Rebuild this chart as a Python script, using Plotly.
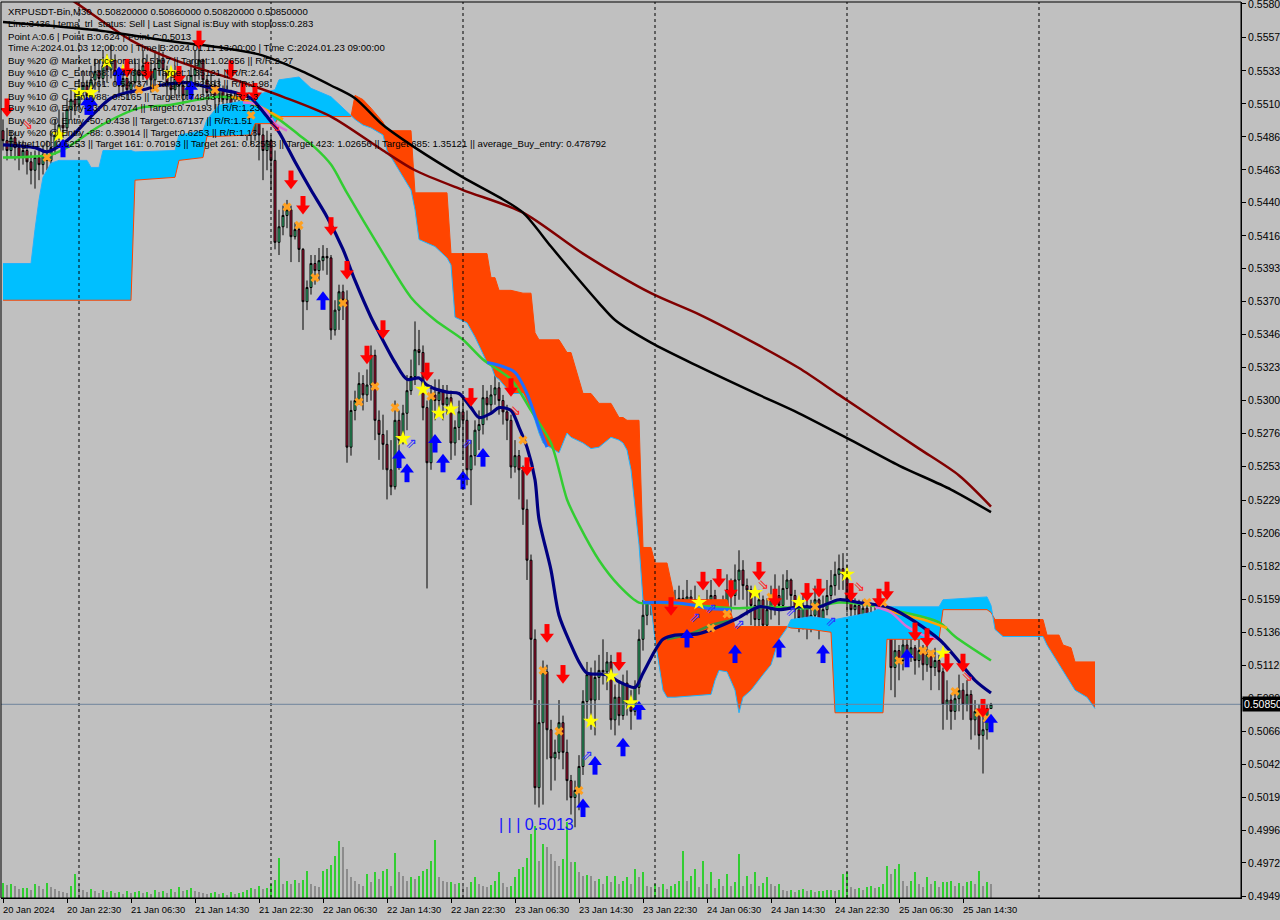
import plotly.graph_objects as go

# ---------------- data ----------------
date_tick_idx = [0, 16, 32, 48, 64, 80, 96, 112, 128, 144, 160, 176, 192, 208, 224, 240]
date_labels = ["20 Jan 2024", "20 Jan 22:30", "21 Jan 06:30", "21 Jan 14:30", "21 Jan 22:30",
               "22 Jan 06:30", "22 Jan 14:30", "22 Jan 22:30", "23 Jan 06:30", "23 Jan 14:30",
               "23 Jan 22:30", "24 Jan 06:30", "24 Jan 14:30", "24 Jan 22:30", "25 Jan 06:30",
               "25 Jan 14:30"]
day_sep_idx = [19, 67, 115, 163, 211, 259]
price_ticks = [0.55807, 0.55573, 0.55333, 0.55100, 0.54866, 0.54633, 0.54400, 0.54166, 0.53933,
               0.53700, 0.53467, 0.53233, 0.53000, 0.52767, 0.52533, 0.52293, 0.52060, 0.51826,
               0.51593, 0.51360, 0.51126, 0.50893, 0.50660, 0.50426, 0.50193, 0.49960, 0.49727,
               0.49493]
price_tick_text = ["0.55807", "0.55573", "0.55333", "0.55100", "0.54866", "0.54633", "0.54400",
                   "0.54166", "0.53933", "0.53700", "0.53467", "0.53233", "0.53000", "0.52767",
                   "0.52533", "0.52293", "0.52060", "0.51826", "0.51593", "0.51360", "0.51126",
                   "0.50893", "0.50660", "0.50426", "0.50193", "0.49960", "0.49727", "0.49493"]
last_price = 0.5085

first_open = 0.5491
close = [0.5484, 0.5477, 0.5486, 0.5479, 0.5472, 0.5477, 0.5469, 0.5463, 0.5472, 0.5467,
         0.5474, 0.5470, 0.5479, 0.5488, 0.5495, 0.5493, 0.5506, 0.5513, 0.5509, 0.5518,
         0.5523, 0.5516, 0.5527, 0.5533, 0.5528, 0.5537, 0.5534, 0.5541, 0.5530, 0.5523,
         0.5528, 0.5520, 0.5525, 0.5534, 0.5530, 0.5537, 0.5533, 0.5527, 0.5535, 0.5541,
         0.5534, 0.5525, 0.5520, 0.5528, 0.5523, 0.5516, 0.5521, 0.5530, 0.5535, 0.5541,
         0.5527, 0.5518, 0.5523, 0.5514, 0.5520, 0.5513, 0.5516, 0.5506, 0.5509, 0.5500,
         0.5506, 0.5495, 0.5491, 0.5497, 0.5488, 0.5477, 0.5484, 0.5470, 0.5412, 0.5423,
         0.5431, 0.5435, 0.5416, 0.5421, 0.5407, 0.5370, 0.5380, 0.5397, 0.5392, 0.5399,
         0.5402, 0.5401, 0.5350, 0.5364, 0.5377, 0.5371, 0.5267, 0.5293, 0.5300, 0.5312,
         0.5304, 0.5311, 0.5332, 0.5286, 0.5276, 0.5269, 0.5251, 0.5239, 0.5286, 0.5272,
         0.5291, 0.5307, 0.5317, 0.5336, 0.5334, 0.5295, 0.5256, 0.5304, 0.5300, 0.5306,
         0.5297, 0.5302, 0.5270, 0.5281, 0.5292, 0.5286, 0.5251, 0.5261, 0.5279, 0.5283,
         0.5302, 0.5297, 0.5304, 0.5309, 0.5300, 0.5292, 0.5286, 0.5253, 0.5261, 0.5251,
         0.5223, 0.5187, 0.5131, 0.5026, 0.5072, 0.5108, 0.5067, 0.5047, 0.5051, 0.5072,
         0.5051, 0.5031, 0.5019, 0.5024, 0.5041, 0.5087, 0.5106, 0.5088, 0.5104, 0.5109,
         0.5108, 0.5115, 0.5074, 0.5090, 0.5077, 0.5100, 0.5085, 0.5080, 0.5097, 0.5131,
         0.5148, 0.5159, 0.5169, 0.5159, 0.5166, 0.5155, 0.5148, 0.5159, 0.5152, 0.5160,
         0.5155, 0.5161, 0.5155, 0.5159, 0.5138, 0.5146, 0.5159, 0.5162, 0.5152, 0.5145,
         0.5155, 0.5166, 0.5162, 0.5173, 0.5180, 0.5169, 0.5166, 0.5155, 0.5145, 0.5159,
         0.5141, 0.5152, 0.5159, 0.5162, 0.5155, 0.5167, 0.5173, 0.5162, 0.5152, 0.5146,
         0.5155, 0.5141, 0.5148, 0.5159, 0.5143, 0.5152, 0.5162, 0.5169, 0.5177, 0.5181,
         0.5177, 0.5159, 0.5152, 0.5155, 0.5148, 0.5153, 0.5146, 0.5150, 0.5143, 0.5148,
         0.5141, 0.5145, 0.5111, 0.5123, 0.5116, 0.5127, 0.5120, 0.5125, 0.5116, 0.5123,
         0.5113, 0.5120, 0.5111, 0.5116, 0.5108, 0.5085, 0.5088, 0.5080, 0.5089, 0.5095,
         0.5085, 0.5092, 0.5074, 0.5080, 0.5063, 0.5067, 0.5082, 0.5085]
high = [0.5499, 0.5493, 0.5491, 0.5490, 0.5484, 0.5484, 0.5481, 0.5476, 0.5477, 0.5477,
        0.5481, 0.5484, 0.5491, 0.5499, 0.5506, 0.5504, 0.5513, 0.5520, 0.5521, 0.5527,
        0.5534, 0.5527, 0.5537, 0.5542, 0.5541, 0.5548, 0.5545, 0.5552, 0.5545, 0.5535,
        0.5537, 0.5533, 0.5534, 0.5541, 0.5542, 0.5548, 0.5545, 0.5540, 0.5547, 0.5552,
        0.5547, 0.5537, 0.5530, 0.5537, 0.5534, 0.5527, 0.5530, 0.5541, 0.5548, 0.5552,
        0.5542, 0.5530, 0.5533, 0.5527, 0.5528, 0.5523, 0.5523, 0.5520, 0.5518, 0.5513,
        0.5514, 0.5509, 0.5502, 0.5504, 0.5500, 0.5493, 0.5491, 0.5488, 0.5477, 0.5435,
        0.5438, 0.5442, 0.5438, 0.5426, 0.5424, 0.5408, 0.5385, 0.5403, 0.5403, 0.5408,
        0.5410, 0.5408, 0.5403, 0.5371, 0.5382, 0.5382, 0.5378, 0.5300, 0.5307, 0.5320,
        0.5318, 0.5322, 0.5339, 0.5336, 0.5293, 0.5290, 0.5279, 0.5272, 0.5300, 0.5293,
        0.5297, 0.5318, 0.5329, 0.5356, 0.5350, 0.5339, 0.5300, 0.5311, 0.5315, 0.5315,
        0.5311, 0.5311, 0.5307, 0.5286, 0.5300, 0.5304, 0.5293, 0.5272, 0.5286, 0.5293,
        0.5311, 0.5307, 0.5311, 0.5318, 0.5313, 0.5304, 0.5297, 0.5290, 0.5272, 0.5265,
        0.5254, 0.5230, 0.5191, 0.5138, 0.5088, 0.5116, 0.5113, 0.5074, 0.5060, 0.5088,
        0.5077, 0.5060, 0.5035, 0.5031, 0.5049, 0.5095, 0.5115, 0.5111, 0.5116, 0.5120,
        0.5131, 0.5122, 0.5120, 0.5099, 0.5102, 0.5106, 0.5109, 0.5095, 0.5102, 0.5138,
        0.5159, 0.5166, 0.5184, 0.5177, 0.5180, 0.5169, 0.5162, 0.5167, 0.5166, 0.5169,
        0.5166, 0.5173, 0.5166, 0.5169, 0.5162, 0.5159, 0.5166, 0.5173, 0.5166, 0.5159,
        0.5162, 0.5177, 0.5174, 0.5184, 0.5194, 0.5187, 0.5174, 0.5169, 0.5162, 0.5166,
        0.5162, 0.5160, 0.5169, 0.5177, 0.5169, 0.5177, 0.5180, 0.5174, 0.5166, 0.5159,
        0.5162, 0.5159, 0.5159, 0.5169, 0.5160, 0.5162, 0.5173, 0.5180, 0.5186, 0.5191,
        0.5192, 0.5184, 0.5162, 0.5160, 0.5159, 0.5159, 0.5155, 0.5157, 0.5155, 0.5155,
        0.5152, 0.5150, 0.5148, 0.5131, 0.5127, 0.5134, 0.5131, 0.5132, 0.5127, 0.5131,
        0.5127, 0.5127, 0.5123, 0.5125, 0.5120, 0.5111, 0.5102, 0.5092, 0.5095, 0.5106,
        0.5100, 0.5102, 0.5095, 0.5088, 0.5085, 0.5080, 0.5085, 0.5086]
low = [0.5477, 0.5470, 0.5472, 0.5470, 0.5463, 0.5467, 0.5460, 0.5453, 0.5450, 0.5456,
       0.5460, 0.5463, 0.5467, 0.5474, 0.5484, 0.5486, 0.5488, 0.5499, 0.5502, 0.5506,
       0.5513, 0.5511, 0.5513, 0.5520, 0.5518, 0.5523, 0.5525, 0.5528, 0.5523, 0.5514,
       0.5518, 0.5513, 0.5516, 0.5521, 0.5523, 0.5527, 0.5523, 0.5518, 0.5523, 0.5530,
       0.5527, 0.5516, 0.5513, 0.5516, 0.5514, 0.5509, 0.5513, 0.5518, 0.5525, 0.5527,
       0.5516, 0.5509, 0.5513, 0.5506, 0.5509, 0.5502, 0.5506, 0.5495, 0.5500, 0.5488,
       0.5491, 0.5484, 0.5481, 0.5484, 0.5470, 0.5456, 0.5463, 0.5449, 0.5407, 0.5403,
       0.5417, 0.5422, 0.5398, 0.5414, 0.5398, 0.5350, 0.5364, 0.5375, 0.5382, 0.5385,
       0.5392, 0.5389, 0.5343, 0.5346, 0.5350, 0.5357, 0.5256, 0.5261, 0.5286, 0.5297,
       0.5293, 0.5299, 0.5300, 0.5272, 0.5258, 0.5251, 0.5230, 0.5233, 0.5237, 0.5251,
       0.5269, 0.5279, 0.5304, 0.5311, 0.5325, 0.5286, 0.5167, 0.5251, 0.5286, 0.5293,
       0.5286, 0.5290, 0.5258, 0.5261, 0.5272, 0.5258, 0.5240, 0.5226, 0.5254, 0.5265,
       0.5276, 0.5286, 0.5292, 0.5297, 0.5290, 0.5283, 0.5272, 0.5245, 0.5249, 0.5230,
       0.5212, 0.5173, 0.5088, 0.5014, 0.5012, 0.5014, 0.5046, 0.5024, 0.5031, 0.5046,
       0.5039, 0.5017, 0.5007, 0.4998, 0.5010, 0.5035, 0.5074, 0.5067, 0.5063, 0.5088,
       0.5099, 0.5095, 0.5067, 0.5063, 0.5070, 0.5074, 0.5077, 0.5067, 0.5077, 0.5092,
       0.5123, 0.5141, 0.5148, 0.5145, 0.5152, 0.5131, 0.5123, 0.5138, 0.5131, 0.5141,
       0.5123, 0.5131, 0.5120, 0.5131, 0.5120, 0.5123, 0.5141, 0.5145, 0.5131, 0.5116,
       0.5138, 0.5148, 0.5150, 0.5155, 0.5159, 0.5159, 0.5148, 0.5141, 0.5134, 0.5138,
       0.5131, 0.5139, 0.5145, 0.5148, 0.5141, 0.5152, 0.5159, 0.5152, 0.5141, 0.5136,
       0.5138, 0.5131, 0.5136, 0.5145, 0.5131, 0.5139, 0.5148, 0.5159, 0.5162, 0.5166,
       0.5166, 0.5150, 0.5145, 0.5146, 0.5141, 0.5145, 0.5139, 0.5141, 0.5136, 0.5139,
       0.5131, 0.5134, 0.5095, 0.5090, 0.5102, 0.5109, 0.5113, 0.5115, 0.5106, 0.5111,
       0.5102, 0.5108, 0.5095, 0.5105, 0.5095, 0.5067, 0.5074, 0.5067, 0.5074, 0.5080,
       0.5074, 0.5080, 0.5060, 0.5063, 0.5053, 0.5036, 0.5060, 0.5082]
volume = [15, 13, 14, 12, 9, 10, 10, 8, 14, 12, 9, 15, 11, 9, 7, 6, 5, 12, 24, 14,
          8, 6, 9, 7, 5, 8, 6, 7, 5, 6, 4, 7, 5, 6, 7, 5, 6, 4, 8, 6,
          7, 5, 9, 6, 11, 7, 8, 10, 7, 6, 5, 4, 5, 6, 4, 5, 3, 6, 4, 5,
          6, 8, 10, 9, 12, 9, 10,
          14, 18, 40, 14, 17, 14, 18, 15, 18, 27, 14, 12, 11, 27, 29, 33, 42, 57, 51, 29,
          21, 17, 14, 12, 24, 16, 26, 19, 27, 29, 12, 45, 26, 22, 17, 21, 19, 22, 27, 29,
          37, 58, 21, 17, 16,
          16, 14, 15, 12, 11, 16, 21, 14, 12, 11, 13, 17, 26, 15, 11, 12,
          21, 29, 31, 40, 64, 72, 37, 54, 51, 44, 37, 32, 39, 76, 36, 36, 26, 22,
          23, 22, 17, 19, 14, 22, 16, 22, 14, 17, 21, 14, 29, 21, 26, 12, 11, 14,
          11, 14, 9, 12, 14, 17, 47, 17, 22, 29, 11, 37, 14, 26, 10, 19, 12, 24, 12, 16, 44, 12,
          22, 14, 26, 12, 15, 21, 14, 12, 14, 8, 7, 8, 6, 8, 9, 7, 8, 6, 7, 7, 8, 8, 7, 8, 24, 26,
          11, 9, 10, 8, 11, 12, 10, 11, 14, 32, 24, 29, 34, 17, 12, 17, 26, 14, 11, 21,
          14, 17, 11, 16, 16, 17, 12, 15, 12, 16, 17, 14, 27, 12, 16, 14]

# Ichimoku cloud (Senkou span A / span B), shifted 26 bars ahead
cloud_idx = [0, 7, 8, 9, 10, 12, 14, 21, 22, 24, 25, 32, 33, 43, 44, 50, 51, 54, 62, 63,
             68, 69, 74, 77, 82, 85, 87, 88, 90, 92, 95, 96, 99, 102, 103, 104, 108, 111, 112, 113,
             116, 118, 121, 122, 123, 124, 127, 130, 132, 133, 134, 135, 139, 141, 142, 145, 147, 149, 152, 154,
             155, 156, 157, 158, 159, 160, 162, 163, 165, 166, 168, 177, 178, 179, 181, 183, 184, 185, 187, 190,
             192, 194, 196, 197, 202, 207, 208, 217, 220, 221, 234, 235, 246, 247, 248, 250, 260, 261, 264, 265,
             267, 268, 271, 273]
span_a = [0.5397, 0.5397, 0.5421, 0.5442, 0.5458, 0.5468, 0.5470, 0.5470, 0.5465, 0.5465,
          0.5477, 0.5477, 0.5476, 0.5477, 0.5488, 0.5491, 0.5499, 0.5509, 0.5513, 0.5516,
          0.5520, 0.5527, 0.5529, 0.5521, 0.5515, 0.5507, 0.5502, 0.5499, 0.5495, 0.5493,
          0.5488, 0.5477, 0.5463, 0.5449, 0.5435, 0.5414, 0.5409, 0.5401, 0.5396, 0.5359,
          0.5355, 0.5345, 0.5327, 0.5325, 0.5317, 0.5315, 0.5305, 0.5305, 0.5293, 0.5286,
          0.5277, 0.5270, 0.5263, 0.5277, 0.5274, 0.5270, 0.5266, 0.5267, 0.5274, 0.5272,
          0.5270, 0.5265, 0.5251, 0.5223, 0.5198, 0.5159, 0.5155, 0.5131, 0.5095, 0.5090,
          0.5090, 0.5092, 0.5102, 0.5109, 0.5108, 0.5095, 0.5079, 0.5090, 0.5095, 0.5106,
          0.5113, 0.5131, 0.5139, 0.5145, 0.5147, 0.5145, 0.5145, 0.5150, 0.5154, 0.5154,
          0.5154, 0.5159, 0.5161, 0.5155, 0.5138, 0.5133, 0.5133, 0.5127, 0.5113, 0.5108,
          0.5099, 0.5095, 0.5090, 0.5082]
span_b = [0.5371, 0.5371, 0.5371, 0.5371, 0.5371, 0.5371, 0.5371, 0.5371, 0.5371, 0.5371,
          0.5371, 0.5371, 0.5456, 0.5458, 0.5470, 0.5472, 0.5487, 0.5487, 0.5488, 0.5496,
          0.5496, 0.5501, 0.5501, 0.5501, 0.5501, 0.5501, 0.5501, 0.5516, 0.5513, 0.5507,
          0.5497, 0.5491, 0.5491, 0.5491, 0.5447, 0.5447, 0.5447, 0.5447, 0.5404, 0.5404,
          0.5404, 0.5404, 0.5404, 0.5387, 0.5387, 0.5378, 0.5378, 0.5376, 0.5376, 0.5348,
          0.5343, 0.5343, 0.5343, 0.5334, 0.5334, 0.5305, 0.5305, 0.5298, 0.5298, 0.5288,
          0.5288, 0.5286, 0.5286, 0.5286, 0.5286, 0.5196, 0.5196, 0.5185, 0.5185, 0.5185,
          0.5159, 0.5159, 0.5159, 0.5159, 0.5159, 0.5140, 0.5140, 0.5140, 0.5140, 0.5140,
          0.5140, 0.5140, 0.5140, 0.5139, 0.5138, 0.5136, 0.5079, 0.5079, 0.5079, 0.5131,
          0.5131, 0.5152, 0.5152, 0.5150, 0.5145, 0.5145, 0.5145, 0.5134, 0.5134, 0.5127,
          0.5125, 0.5115, 0.5115, 0.5115]

# moving averages (value at bar index)
ma_black_idx = [0, 24, 40, 54, 64, 74, 82, 88, 95, 103, 115, 124, 130, 137, 142, 149, 153, 162,
                174, 189, 199, 212, 224, 237, 247]
ma_black = [0.5568, 0.5562, 0.5555, 0.5550, 0.5545, 0.5534, 0.5523, 0.5514, 0.5495, 0.5479,
            0.5458, 0.5444, 0.5433, 0.5409, 0.5392, 0.5369, 0.5357, 0.5341, 0.5324, 0.5304,
            0.5291, 0.5272, 0.5254, 0.5237, 0.5221]
ma_maroon_idx = [9, 18, 32, 43, 58, 70, 82, 95, 103, 115, 130, 145, 162, 174, 189, 199, 209,
                 219, 229, 239, 247]
ma_maroon = [0.5598, 0.5582, 0.5555, 0.5541, 0.5527, 0.5515, 0.5501, 0.5477, 0.5463, 0.5449,
             0.5433, 0.5404, 0.5376, 0.5361, 0.5339, 0.5323, 0.5304, 0.5285, 0.5266, 0.5247,
             0.5225]
ma_green_idx = [0, 12, 16, 24, 34, 41, 49, 54, 60, 68, 74, 78, 82, 86, 94, 102, 108, 115, 120,
                127, 132, 137, 141, 144, 149, 154, 159, 163, 174, 183, 192, 201, 209, 217, 222,
                234, 238, 247]
ma_green = [0.5472, 0.5474, 0.5479, 0.5494, 0.5507, 0.5509, 0.5513, 0.5515, 0.5513, 0.5501,
            0.5488, 0.5479, 0.5467, 0.5447, 0.5409, 0.5373, 0.5357, 0.5343, 0.5329, 0.5315,
            0.5293, 0.5270, 0.5230, 0.5212, 0.5187, 0.5169, 0.5157, 0.5157, 0.5155, 0.5153,
            0.5154, 0.5153, 0.5157, 0.5155, 0.5152, 0.5143, 0.5133, 0.5116]
tema_idx = [0, 8, 11, 16, 23, 27, 31, 35, 39, 46, 51, 58, 62, 66, 69, 73, 77, 81, 85, 88,
            92, 94, 98, 101, 104, 106, 111, 114, 117, 119, 122, 124, 127, 129, 131, 133, 134,
            137, 139, 142, 144, 146, 151, 154, 158, 160, 163, 165, 168, 174, 183, 189, 194,
            199, 204, 209, 214, 222, 234, 243, 247]
tema = [0.5481, 0.5479, 0.5476, 0.5484, 0.5504, 0.5514, 0.5518, 0.5520, 0.5523, 0.5525,
        0.5522, 0.5518, 0.5514, 0.5501, 0.5490, 0.5469, 0.5449, 0.5430, 0.5407, 0.5385,
        0.5359, 0.5348, 0.5327, 0.5315, 0.5316, 0.5311, 0.5306, 0.5305, 0.5295, 0.5288,
        0.5291, 0.5295, 0.5293, 0.5281, 0.5267, 0.5244, 0.5216, 0.5180, 0.5148, 0.5127,
        0.5115, 0.5107, 0.5106, 0.5101, 0.5097, 0.5107, 0.5123, 0.5131, 0.5134, 0.5135,
        0.5145, 0.5154, 0.5152, 0.5154, 0.5154, 0.5159, 0.5157, 0.5153, 0.5131, 0.5102,
        0.5093]
kijun_seg1_idx = [121, 124, 128, 131, 134, 136]
kijun_seg1 = [0.5327, 0.5325, 0.5320, 0.5305, 0.5281, 0.5267]
kijun_seg2_idx = [160, 167, 173, 176, 182]
kijun_seg2 = [0.5157, 0.5157, 0.5155, 0.5153, 0.5152]
dkgreen_idx = [166, 172, 177, 183]
dkgreen = [0.5131, 0.5135, 0.5141, 0.5145]
orange_seg1_idx = [57, 60, 65, 70]
orange_seg1 = [0.5515, 0.5513, 0.5507, 0.5499]
orange_seg2_idx = [218, 223, 230, 236]
orange_seg2 = [0.5155, 0.5150, 0.5145, 0.5139]
pink_seg1_idx = [60, 63, 66, 68, 71]
pink_seg1 = [0.5511, 0.5510, 0.5504, 0.5496, 0.5491]
pink_seg2_idx = [218, 222, 226, 230, 234]
pink_seg2 = [0.5154, 0.5150, 0.5140, 0.5134, 0.5131]

# signals
sell_idx = [1, 31, 36, 44, 49, 57, 60, 63, 72, 75, 82, 86, 91, 95, 106, 117, 127, 131, 136,
            140, 154, 167, 175, 179, 182, 189, 193, 201, 204, 212, 219, 221, 228, 231, 236,
            240, 245]
sell_px = [0.5507, 0.5535, 0.5533, 0.5530, 0.5555, 0.5534, 0.5518, 0.5518, 0.5456, 0.5438,
           0.5423, 0.5392, 0.5332, 0.5350, 0.5320, 0.5302, 0.5309, 0.5253, 0.5135, 0.5106,
           0.5115, 0.5154, 0.5172, 0.5174, 0.5166, 0.5179, 0.5160, 0.5164, 0.5167, 0.5164,
           0.5160, 0.5165, 0.5136, 0.5132, 0.5114, 0.5114, 0.5082]
buy_idx = [15, 21, 22, 29, 47, 80, 99, 101, 108, 110, 115, 120, 145, 148, 155, 159, 171, 183,
           194, 205, 226, 247]
buy_px = [0.5479, 0.5509, 0.5509, 0.5530, 0.5520, 0.5371, 0.5259, 0.5249, 0.5270, 0.5256,
          0.5244, 0.5260, 0.5012, 0.5042, 0.5055, 0.5081, 0.5132, 0.5121, 0.5125, 0.5121,
          0.5118, 0.5072]
star_idx = [14, 19, 22, 26, 30, 42, 100, 105, 109, 112, 147, 152, 157, 174, 188, 199, 211, 235]
star_px = [0.5488, 0.5518, 0.5518, 0.5540, 0.5533, 0.5532, 0.5273, 0.5308, 0.5291, 0.5294,
           0.5073, 0.5105, 0.5086, 0.5157, 0.5164, 0.5157, 0.5177, 0.5121]
cross_idx = [11, 34, 38, 53, 62, 71, 74, 78, 85, 89, 93, 98, 107, 130, 135, 139, 144, 177,
             181, 192, 203, 216, 220, 224, 230, 232, 238, 244, 246]
cross_px = [0.5472, 0.5520, 0.5521, 0.5520, 0.5502, 0.5437, 0.5424, 0.5387, 0.5369, 0.5299,
            0.5310, 0.5295, 0.5303, 0.5272, 0.5109, 0.5066, 0.5024, 0.5139, 0.5149, 0.5161,
            0.5154, 0.5157, 0.5157, 0.5116, 0.5123, 0.5121, 0.5094, 0.5079, 0.5075]
hollow_buy_idx = [102, 116, 146, 173, 177, 184, 197, 207]
hollow_buy_px = [0.5269, 0.5269, 0.5048, 0.5146, 0.5152, 0.5141, 0.5150, 0.5143]
hollow_sell_idx = [6, 68, 128, 190, 214, 241]
hollow_sell_px = [0.5495, 0.5493, 0.5292, 0.5169, 0.5168, 0.5104]

info_lines = [
    "XRPUSDT-Bin,M30  0.50820000 0.50860000 0.50820000 0.50850000",
    "Line:3436 | tema_trl_status: Sell | Last Signal is:Buy with stoploss:0.283",
    "Point A:0.6 | Point B:0.624 | Point C:0.5013",
    "Time A:2024.01.03 12:00:00 | Time B:2024.01.11 13:00:00 | Time C:2024.01.23 09:00:00",
    "Buy %20 @ Market price or at: 0.5107 || Target:1.02656 || R/R:2.27",
    "Buy %10 @ C_Entry38: 0.47663 || Target:1.35121 || R/R:2.64",
    "Buy %10 @ C_Entry61: 0.54737 || Target:0.82593 || R/R:1.98",
    "Buy %10 @ C_Entry88: 0.5165 || Target:0.74843 || R/R:1.3",
    "Buy %10 @ Entry-23: 0.47074 || Target:0.70193 || R/R:1.23",
    "Buy %20 @ Entry -50: 0.438 || Target:0.67137 || R/R:1.51",
    "Buy %20 @ Entry -88: 0.39014 || Target:0.6253 || R/R:1.18",
    "Target100: 0.6253 || Target 161: 0.70193 || Target 261: 0.82593 || Target 423: 1.02656 || Target 685: 1.35121 || average_Buy_entry: 0.478792",
]
low_label = "| | | 0.5013"
low_label_idx = 123.5
low_label_px = 0.5000

# ---------------- layout geometry ----------------
W, H = 1280, 920
ML, MR, MT, MB = 1, 39, 2, 22
PW, PH = W - ML - MR, H - MT - MB
X_RANGE = [-0.5, 309.5]
Y_RANGE = [0.49479, 0.55821]
PXP = (Y_RANGE[1] - Y_RANGE[0]) / PH   # price per pixel (for glyph offsets)
BG = "#C0C0C0"
FONT = "Liberation Sans"


def paper_x(px):
    return (px - ML) / PW


def paper_y(py):
    return 1 - (py - MT) / PH


def cloud_runs(ix, a, b):
    pts = [(ix[0], a[0], b[0])]
    for k in range(len(ix) - 1):
        d0 = a[k] - b[k]
        d1 = a[k + 1] - b[k + 1]
        if d0 * d1 < 0:
            t = d0 / (d0 - d1)
            xc = ix[k] + t * (ix[k + 1] - ix[k])
            yc = a[k] + t * (a[k + 1] - a[k])
            pts.append((xc, yc, yc))
        pts.append((ix[k + 1], a[k + 1], b[k + 1]))
    runs, cur = [], [pts[0]]
    for p in pts[1:]:
        cur.append(p)
        if p[1] == p[2]:
            runs.append(cur)
            cur = [p]
    runs.append(cur)
    out = {1: ([], []), -1: ([], [])}
    for run in runs:
        if len(run) < 2:
            continue
        s = 1 if sum(p[1] - p[2] for p in run) > 0 else -1
        xs = [p[0] for p in run] + [p[0] for p in reversed(run)] + [None]
        ys = [p[1] for p in run] + [p[2] for p in reversed(run)] + [None]
        out[s][0].extend(xs)
        out[s][1].extend(ys)
    return out


fig = go.Figure()

# cloud fill
runs = cloud_runs(cloud_idx, span_a, span_b)
for s, col in ((1, "#00BFFF"), (-1, "#FF4500")):
    fig.add_trace(go.Scatter(x=runs[s][0], y=runs[s][1], mode="lines", fill="toself",
                             fillcolor=col, line=dict(width=0, color=col), hoverinfo="skip"))
fig.add_trace(go.Scatter(x=cloud_idx, y=span_b, mode="lines",
                         line=dict(color="#FF4500", width=1), hoverinfo="skip"))
fig.add_trace(go.Scatter(x=cloud_idx, y=span_a, mode="lines",
                         line=dict(color="#1EB4FF", width=1), hoverinfo="skip"))

# volumes
n = len(close)
idx = list(range(n))
vcol = ["#32CD32" if k == 0 or volume[k] >= volume[k - 1] else "#8C8C8C" for k in range(n)]
fig.add_trace(go.Bar(x=idx, y=volume, marker=dict(color=vcol, line=dict(width=0)), width=0.3,
                     yaxis="y2", hoverinfo="skip"))

# candles
open_ = [first_open] + close[:-1]
hi = [max(h, o, c) for h, o, c in zip(high, open_, close)]
lo = [min(l, o, c) for l, o, c in zip(low, open_, close)]
fig.add_trace(go.Candlestick(
    x=idx, open=open_, high=hi, low=lo, close=close, whiskerwidth=0,
    increasing=dict(line=dict(color="black", width=1), fillcolor="#3CDC8C"),
    decreasing=dict(line=dict(color="black", width=1), fillcolor="#C8143C"),
    hoverinfo="skip"))


def line(xs, ys, color, width, shape="spline"):
    fig.add_trace(go.Scatter(x=xs, y=ys, mode="lines", line=dict(color=color, width=width,
                                                                  shape=shape, smoothing=0.8),
                             hoverinfo="skip"))


line(ma_maroon_idx, ma_maroon, "#800000", 2.5)
line(ma_black_idx, ma_black, "#000000", 2.5)
line(ma_green_idx, ma_green, "#32CD32", 2.5)
line(kijun_seg1_idx, kijun_seg1, "#1E6EFF", 3)
line(kijun_seg2_idx, kijun_seg2, "#1E6EFF", 3)
line(dkgreen_idx, dkgreen, "#3F8F3F", 2.5)
line(orange_seg1_idx, orange_seg1, "#FFA500", 2.5)
line(orange_seg2_idx, orange_seg2, "#FFA500", 2.5)
line(pink_seg1_idx, pink_seg1, "#DA70D6", 2.5)
line(pink_seg2_idx, pink_seg2, "#DA70D6", 2.5)
line(tema_idx, tema, "#000080", 3.2)

# markers
fig.add_trace(go.Scatter(x=star_idx, y=star_px, mode="markers",
                         marker=dict(symbol="star", size=12, color="#FFFF00", line=dict(width=0)),
                         hoverinfo="skip"))
fig.add_trace(go.Scatter(x=cross_idx, y=cross_px, mode="markers",
                         marker=dict(symbol="x", size=8, color="#FFA020", line=dict(width=0)),
                         hoverinfo="skip"))


def thick_arrow(xs, ys, color, down):
    sgn = 1 if down else -1
    fig.add_trace(go.Scatter(x=xs, y=[p + sgn * 4 * PXP for p in ys], mode="markers",
                             marker=dict(symbol="line-ns", size=8,
                                         line=dict(color=color, width=5)),
                             hoverinfo="skip"))
    fig.add_trace(go.Scatter(x=xs, y=[p - sgn * 3 * PXP for p in ys], mode="markers",
                             marker=dict(symbol="triangle-down" if down else "triangle-up",
                                         size=12, color=color, line=dict(width=0)),
                             hoverinfo="skip"))


thick_arrow(sell_idx, sell_px, "#FF0000", True)
thick_arrow(buy_idx, buy_px, "#0000FF", False)

fig.add_trace(go.Scatter(x=hollow_buy_idx, y=hollow_buy_px, mode="text",
                         text=["⇗"] * len(hollow_buy_idx),
                         textfont=dict(family="DejaVu Sans", size=14, color="#3030FF"),
                         hoverinfo="skip"))
fig.add_trace(go.Scatter(x=hollow_sell_idx, y=hollow_sell_px, mode="text",
                         text=["⇘"] * len(hollow_sell_idx),
                         textfont=dict(family="DejaVu Sans", size=14, color="#FF2020"),
                         hoverinfo="skip"))

# shapes
shapes = []
for d in day_sep_idx:
    shapes.append(dict(type="line", xref="x", yref="paper", x0=d, x1=d, y0=0, y1=1,
                       line=dict(color="black", width=1, dash="3px,3px")))
shapes.append(dict(type="line", xref="paper", yref="y", x0=0, x1=1, y0=last_price, y1=last_price,
                   line=dict(color="#6E849C", width=1)))
shapes.append(dict(type="rect", xref="paper", yref="paper", x0=0, x1=1, y0=0, y1=1,
                   line=dict(color="black", width=1)))

annotations = []
for k, t in enumerate(info_lines):
    yc = 11 + 12 * k + (1 if k > 0 else 0)
    annotations.append(dict(text=t, xref="paper", yref="paper", x=paper_x(6), y=paper_y(yc),
                            xanchor="left", yanchor="middle", showarrow=False,
                            font=dict(family=FONT, size=9.6, color="black")))
for d, t in zip(date_tick_idx, date_labels):
    annotations.append(dict(text=t, xref="x", yref="paper", x=d, y=paper_y(909),
                            xanchor="left", yanchor="middle", showarrow=False, xshift=-2,
                            font=dict(family=FONT, size=9.4, color="black")))
annotations.append(dict(text=low_label, xref="x", yref="y", x=low_label_idx, y=low_label_px,
                        xanchor="left", yanchor="middle", showarrow=False,
                        font=dict(family=FONT, size=16, color="#1414FF")))
annotations.append(dict(text="0.50850", xref="paper", yref="y", x=1, y=last_price,
                        xanchor="left", yanchor="middle", showarrow=False, xshift=1,
                        bgcolor="black", borderpad=1,
                        font=dict(family=FONT, size=10.5, color="white")))

fig.update_layout(
    width=W, height=H, margin=dict(l=ML, r=MR, t=MT, b=MB, pad=0, autoexpand=False),
    paper_bgcolor=BG, plot_bgcolor=BG, showlegend=False,
    xaxis=dict(range=X_RANGE, showgrid=False, zeroline=False, rangeslider=dict(visible=False),
               tickmode="array", tickvals=date_tick_idx, ticks="outside", ticklen=4,
               tickcolor="black", showticklabels=False, showline=True, linecolor="black",
               linewidth=1, automargin=False),
    yaxis=dict(range=Y_RANGE, side="right", showgrid=False, zeroline=False, tickmode="array",
               tickvals=price_ticks, ticktext=price_tick_text, ticks="outside", ticklen=4,
               tickcolor="black", showline=True, linecolor="black", linewidth=1,
               automargin=False, ticklabeloverflow="allow",
               tickfont=dict(family=FONT, size=10.5, color="black")),
    yaxis2=dict(range=[0, PH], overlaying="y", visible=False, fixedrange=True, automargin=False),
    shapes=shapes, annotations=annotations, bargap=0,
)

fig.write_html("out.html", config={"displayModeBar": False},
               post_script="document.body.style.margin='0';document.body.style.padding='0';"
                           "document.body.style.background='#C0C0C0';")
